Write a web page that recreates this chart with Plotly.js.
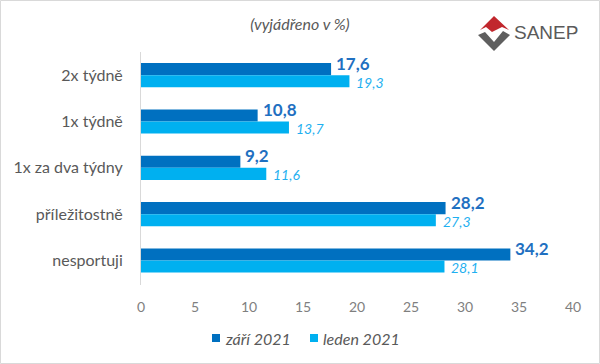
<!DOCTYPE html>
<html><head><meta charset="utf-8">
<script src="https://cdn.plot.ly/plotly-3.0.1.min.js"></script>
<style>body{margin:0;background:#fff}#c{width:600px;height:364px}</style>
</head><body><div id="c"></div>
<script>
const categories = ["2x týdně", "1x týdně", "1x za dva týdny", "příležitostně", "nesportuji"];
const zari2021 = [17.6, 10.8, 9.2, 28.2, 34.2];
const leden2021 = [19.3, 13.7, 11.6, 27.3, 28.1];
const seriesNames = ["září 2021", "leden 2021"];
const seriesColors = ["#0070C0", "#00B0F0"];
const xTicks = [0, 5, 10, 15, 20, 25, 30, 35, 40];

const fmt = v => v.toFixed(1).replace(".", ",");
const L = 141, R = 573, T = 52, B = 285;
const px = x => (x - L) / (R - L);
const py = y => (B - y) / (B - T);

const gray = "#595959";
const font = "Lato, Open Sans, sans-serif";

const traces = [
  {type: "bar", orientation: "h", name: seriesNames[0], y: categories, x: zari2021,
   marker: {color: seriesColors[0]}, hoverinfo: "none"},
  {type: "bar", orientation: "h", name: seriesNames[1], y: categories, x: leden2021,
   marker: {color: seriesColors[1]}, hoverinfo: "none"}
];

const annotations = [];
categories.forEach((c, i) => {
  annotations.push({x: zari2021[i], y: c, xref: "x", yref: "y", text: "<b>" + fmt(zari2021[i]) + "</b>",
    showarrow: false, xanchor: "left", yanchor: "middle", xshift: 3, yshift: 12,
    font: {family: font, size: 17, color: "#1F70C1"}});
  annotations.push({x: leden2021[i], y: c, xref: "x", yref: "y", text: "<i>" + fmt(leden2021[i]) + "</i>",
    showarrow: false, xanchor: "left", yanchor: "middle", xshift: 5, yshift: -7,
    font: {family: font, size: 14, color: "#1FB0F0"}});
});
annotations.push({x: px(512), y: py(32), xref: "paper", yref: "paper", text: "SANEP", showarrow: false,
  xanchor: "left", yanchor: "middle", font: {family: "Liberation Sans, Arial, sans-serif", size: 19, color: "#5a5a5a"}});

// custom legend
const legX = [212, 310];
const shapes = [];
seriesNames.forEach((n, i) => {
  shapes.push({type: "rect", xref: "paper", yref: "paper", x0: px(legX[i]), x1: px(legX[i] + 8),
    y0: py(342), y1: py(334), line: {width: 0}, fillcolor: seriesColors[i]});
  annotations.push({x: px(legX[i] + 11), y: py(338), xref: "paper", yref: "paper", text: "<i>" + n + "</i>",
    showarrow: false, xanchor: "left", yanchor: "middle", font: {family: font, size: 16, color: gray}});
});

shapes.push(
  {type: "path", xref: "paper", yref: "paper", line: {width: 0}, fillcolor: "#5f5f5f",
   path: `M ${px(478)},${py(35)} L ${px(494)},${py(51)} L ${px(510)},${py(35)} L ${px(503)},${py(31)} L ${px(494)},${py(42)} L ${px(485)},${py(32)} Z`},
  {type: "path", xref: "paper", yref: "paper", line: {width: 0}, fillcolor: "#c1272d",
   path: `M ${px(480)},${py(30)} L ${px(494)},${py(16)} L ${px(509)},${py(30)} L ${px(502)},${py(27)} L ${px(492)},${py(32)} L ${px(486)},${py(27)} Z`},
  {type: "rect", xref: "paper", yref: "paper", x0: px(0.5), x1: px(599.5), y0: py(363.5), y1: py(0.5),
   line: {color: "#d9d9d9", width: 1}, fillcolor: "rgba(0,0,0,0)"}
);

const layout = {
  width: 600, height: 364,
  margin: {l: L, r: 600 - R, t: T, b: 364 - B, pad: 0},
  paper_bgcolor: "#fff", plot_bgcolor: "#fff",
  title: {text: "<i>(vyjádřeno v %)</i>", x: 0.5, xanchor: "center", y: 1 - 24 / 364, yanchor: "middle",
    font: {family: font, size: 16, color: gray}},
  barmode: "group", bargap: 0.48, bargroupgap: 0,
  xaxis: {range: [0, 40], tickvals: xTicks, ticktext: xTicks.map(String), showgrid: false, zeroline: false,
    showline: false, ticks: "", tickfont: {family: font, size: 14, color: "#7f7f7f"}, ticklabelstandoff: 12, fixedrange: true},
  yaxis: {autorange: "reversed", showgrid: false, zeroline: false, showline: true, linecolor: "#d9d9d9", linewidth: 1,
    ticks: "", ticklabelstandoff: 14, tickfont: {family: font, size: 16, color: gray}, fixedrange: true},
  annotations: annotations, shapes: shapes, showlegend: false
};

Plotly.newPlot("c", traces, layout, {staticPlot: true, displayModeBar: false});
</script></body></html>
